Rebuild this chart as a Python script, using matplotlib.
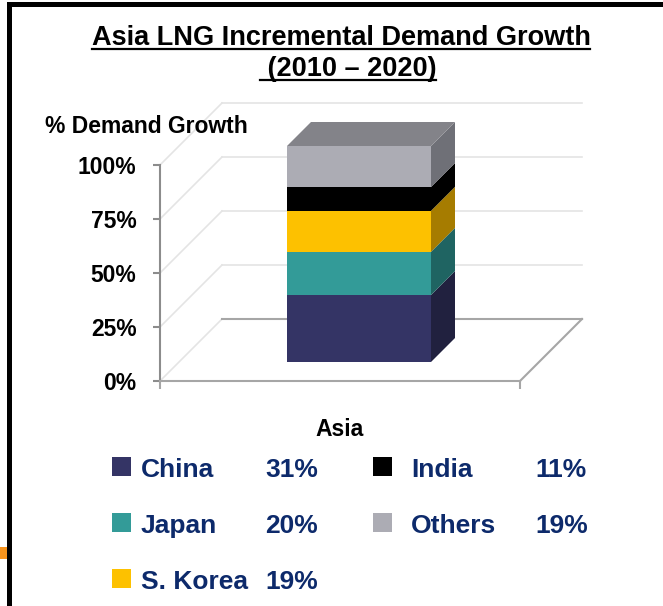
import numpy as np
import matplotlib
matplotlib.use('Agg')
import matplotlib.pyplot as plt
from matplotlib.patches import Rectangle
from matplotlib.lines import Line2D

# Data
countries = ['China', 'Japan', 'S. Korea', 'India', 'Others']
shares = [31, 20, 19, 11, 19]
face_colors = ['#343465', '#339b98', '#fdc100', '#000000', '#acacb4']
side_colors = ['#21213f', '#1f6462', '#a67c00', '#000000', '#6f7077']
top_color = '#838389'
yticks = [0, 25, 50, 75, 100]
ytick_labels = ['0%', '25%', '50%', '75%', '100%']
category = 'Asia'

W, H = 663, 606
fig = plt.figure(figsize=(W / 100, H / 100), dpi=100)
plt.rcParams['font.family'] = ['Liberation Sans', 'DejaVu Sans']


def px(x, y):
    # pixel position (from top-left) -> figure fraction
    return x / W, 1 - y / H


# front plane of the 3D box in pixels
left, right, y0, y100 = 160, 520, 381, 165
ax = fig.add_axes([left / W, 1 - y0 / H, (right - left) / W, (y0 - y100) / H])
ax.set_xlim(0, 1)
ax.set_ylim(0, 100)
ax.patch.set_alpha(0)

depth_px = 62
bar_depth_px = 24
ddx = depth_px / (right - left)
ddy = depth_px / (y0 - y100) * 100
bdx = bar_depth_px / (right - left)
bdy = bar_depth_px / (y0 - y100) * 100
off_x = (ddx - bdx) / 2
off_y = (ddy - bdy) / 2

grid_c = '#e4e4e4'
floor_c = '#a6a6a6'

# walls gridlines
for t in yticks:
    ax.plot([0, ddx], [t, t + ddy], color=grid_c, lw=1.2, clip_on=False, zorder=1)
    ax.plot([ddx, 1 + ddx], [t + ddy, t + ddy], color=floor_c if t == 0 else grid_c,
            lw=1.2 if t else 1.5, clip_on=False, zorder=1)
# floor right edge
ax.plot([1, 1 + ddx], [0, ddy], color=floor_c, lw=1.5, clip_on=False, zorder=1)

# stacked bar
width = 0.4
xc = 0.5 + off_x
bottoms = np.concatenate([[0], np.cumsum(shares)[:-1]])
for s, b, fc, sc in zip(shares, bottoms, face_colors, side_colors):
    ax.bar(xc, s, width=width, bottom=b + off_y, color=fc, zorder=3, linewidth=0, clip_on=False)
    x1 = xc + width / 2
    ax.fill([x1, x1 + bdx, x1 + bdx, x1],
            [b + off_y, b + off_y + bdy, b + s + off_y + bdy, b + s + off_y],
            color=sc, zorder=3, lw=0, clip_on=False)
total = sum(shares)
xl = xc - width / 2
xr = xc + width / 2
ax.fill([xl, xr, xr + bdx, xl + bdx],
        [total + off_y, total + off_y, total + off_y + bdy, total + off_y + bdy],
        color=top_color, zorder=3, lw=0, clip_on=False)

# axes
for sp in ['top', 'right']:
    ax.spines[sp].set_visible(False)
ax.spines['left'].set_color('#8c8c8c')
ax.spines['bottom'].set_color(floor_c)
ax.spines['left'].set_linewidth(1.5)
ax.spines['bottom'].set_linewidth(1.5)
ax.set_yticks(yticks)
ax.set_yticklabels(ytick_labels, fontsize=16.5, fontweight='bold')
ax.tick_params(axis='y', length=5, width=1.5, color='#8c8c8c', pad=12)
ax.set_xticks([0.5])
ax.set_xticklabels([category], fontsize=16.5, fontweight='bold')
ax.set_xticks([0, 1], minor=True)
ax.tick_params(axis='x', which='major', length=0, pad=27)
ax.tick_params(axis='x', which='minor', length=6, width=1.5, color=floor_c)

fig.text(*px(45, 133), '% Demand Growth', fontsize=16.5, fontweight='bold', va='baseline')

# title with underline
titles = [('Asia LNG Incremental Demand Growth', 341, 45),
          (' (2010 \u2013 2020)', 348, 76)]
fig.canvas.draw()
r = fig.canvas.get_renderer()
for s, x, y in titles:
    t = fig.text(*px(x, y), s, fontsize=19.5, fontweight='bold', ha='center', va='baseline')
    bb = t.get_window_extent(renderer=r)
    uy = H - y - 3.5
    fig.add_artist(Line2D([bb.x0 / W, bb.x1 / W], [uy / H, uy / H], color='black', lw=1.6))

# legend
navy = '#0d2a6b'
cols = [(112, 141, 265), (373, 411, 535)]
rows = [477, 533, 589]
slots = [(0, 0), (0, 1), (0, 2), (1, 0), (1, 1)]
for name, s, fc, (c, rw) in zip(countries, shares, face_colors, slots):
    sx, nx, vx = cols[c]
    by = rows[rw]
    fig.add_artist(Rectangle(px(sx, by - 1), 19 / W, 19 / H, color=fc, lw=0))
    fig.text(*px(nx, by), name, fontsize=19, fontweight='bold', color=navy, va='baseline')
    fig.text(*px(vx, by), f'{s}%', fontsize=19, fontweight='bold', color=navy, va='baseline')

# slide border and stray orange mark
fig.add_artist(Rectangle(px(7, H), 5 / W, (H - 2) / H, color='black', lw=0))
fig.add_artist(Rectangle(px(7, 7), (W - 7) / W, 5 / H, color='black', lw=0))
fig.add_artist(Rectangle(px(0, 559), 7 / W, 12 / H, color='#f7941d', lw=0))

fig.savefig('out.png', dpi=100)
